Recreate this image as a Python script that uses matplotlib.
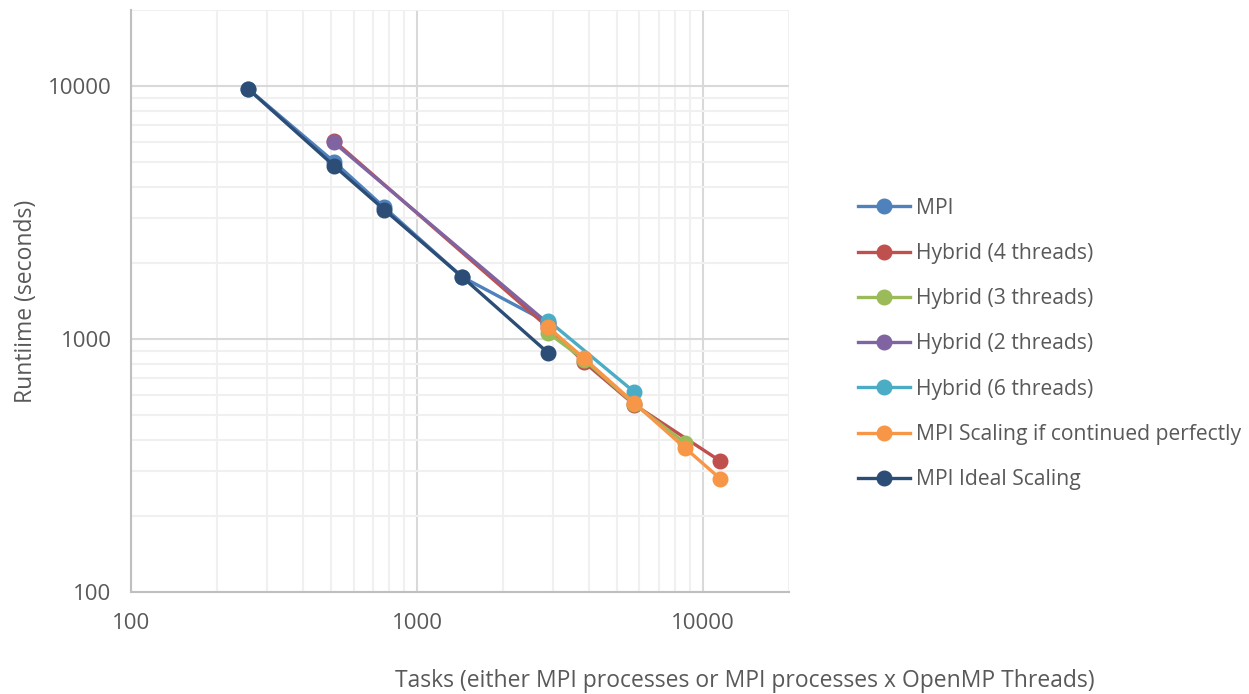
import numpy as np
import matplotlib
matplotlib.use('Agg')
import matplotlib.pyplot as plt
from matplotlib.ticker import LogLocator, FixedLocator, NullFormatter

plt.rcParams['font.family'] = ['Open Sans', 'DejaVu Sans']

# tasks and runtimes (seconds) per series
mpi_x = [256, 512, 768, 1440, 2880]
mpi_y = [9780, 5030, 3320, 1760, 1160]
hyb4_x = [512, 2880, 3840, 5760, 11520]
hyb4_y = [6090, 1110, 811, 550, 329]
hyb3_x = [2880, 3840, 5760, 8640]
hyb3_y = [1056, 830, 553, 389]
hyb2_x = [512, 2880]
hyb2_y = [5990, 1150]
hyb6_x = [2880, 5760]
hyb6_y = [1182, 617]
perf_x = [2880, 3840, 5760, 8640, 11520]
perf_y = [1112, 839, 558, 372, 280]
ideal_x = [256, 512, 768, 1440, 2880]
ideal_y = [9780, 4850, 3250, 1760, 880]

series = [
    ('MPI', mpi_x, mpi_y, '#4f81bd'),
    ('Hybrid (4 threads)', hyb4_x, hyb4_y, '#c0504d'),
    ('Hybrid (3 threads)', hyb3_x, hyb3_y, '#9bbb59'),
    ('Hybrid (2 threads)', hyb2_x, hyb2_y, '#8064a2'),
    ('Hybrid (6 threads)', hyb6_x, hyb6_y, '#4bacc6'),
    ('MPI Scaling if continued perfectly', perf_x, perf_y, '#f79646'),
    ('MPI Ideal Scaling', ideal_x, ideal_y, '#2c4d75'),
]

fig = plt.figure(figsize=(12.49, 6.94), dpi=100)
ax = fig.add_axes([131/1249, 1-592/694, (789-131)/1249, (592-10)/694])

for name, xs, ys, c in series:
    ax.plot(xs, ys, '-o', color=c, lw=2.4, ms=10.5, label=name, zorder=3)

ax.set_xscale('log')
ax.set_yscale('log')
ax.set_xlim(100, 20000)
ax.set_ylim(100, 20000)

ax.xaxis.set_major_locator(FixedLocator([100, 1000, 10000]))
ax.yaxis.set_major_locator(FixedLocator([100, 1000, 10000]))
ax.xaxis.set_minor_locator(LogLocator(base=10, subs=np.arange(2, 10)))
ax.yaxis.set_minor_locator(LogLocator(base=10, subs=np.arange(2, 10)))
ax.xaxis.set_minor_formatter(NullFormatter())
ax.yaxis.set_minor_formatter(NullFormatter())
ax.set_xticklabels(['100', '1000', '10000'])
ax.set_yticklabels(['100', '1000', '10000'])

ax.grid(True, which='major', color='#d9d9d9', lw=1.5, zorder=1)
ax.grid(True, which='minor', color='#f0f0f0', lw=1.5, zorder=1)
ax.set_axisbelow(True)

ax.tick_params(which='both', length=0)
ax.tick_params(axis='x', pad=15, labelsize=16, labelcolor='#595959')
ax.tick_params(axis='y', pad=14, labelsize=16, labelcolor='#595959')

for s in ['top', 'right']:
    ax.spines[s].set_visible(False)
for s in ['left', 'bottom']:
    ax.spines[s].set_color('#bfbfbf')
    ax.spines[s].set_linewidth(1.5)

ax.set_ylabel('Runtiime (seconds)', fontsize=16.5, color='#595959', labelpad=7)
fig.text(745/1249, 1-681/694, 'Tasks (either MPI processes or MPI processes x OpenMP Threads)',
         ha='center', va='center', fontsize=16.5, color='#595959')

leg = fig.legend(loc='center left', bbox_to_anchor=(858/1249, 1-344/694), frameon=False,
                 fontsize=15.2, labelspacing=1.15, handlelength=2.45, handletextpad=0.28,
                 borderaxespad=0, borderpad=0)
for t in leg.get_texts():
    t.set_color('#595959')

fig.savefig('out.png', dpi=100)
